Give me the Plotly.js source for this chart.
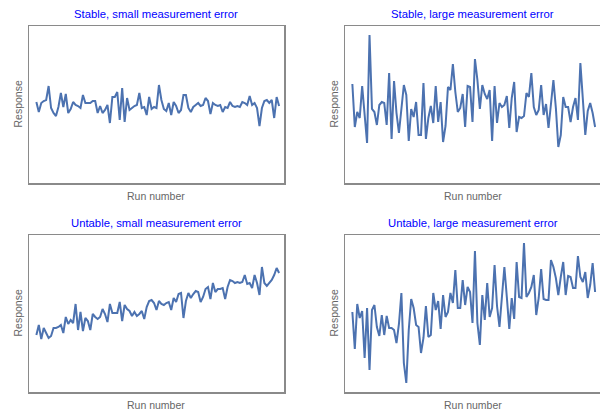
<!DOCTYPE html>
<html>
<head>
<meta charset="utf-8">
<script src="https://cdn.plot.ly/plotly-3.0.1.min.js"></script>
<style>html,body{margin:0;padding:0;background:#fff;}#chart{width:600px;height:415px;}</style>
</head>
<body>
<div id="chart"></div>
<script>
const titles = ["Stable, small measurement error", "Stable, large measurement error",
                "Untable, small measurement error", "Untable, large measurement error"];
const xLabel = "Run number";
const yLabel = "Response";

const stableSmall = [81,71,80,82,83,97,75,70,67,76,90,76,89,70,74,81,78,77,75,88,80,80,80,82,82,70,77,70,73,78,60,86,86,91,63,95,61,85,73,75,77,78,90,75,76,68,86,74,76,75,98,83,74,72,80,68,81,77,70,73,88,88,75,71,76,78,80,77,78,85,82,69,80,78,77,78,71,76,75,81,77,76,77,76,81,80,78,87,78,80,75,57,75,82,83,80,83,65,86,77];
const stableLarge = [99,56,71,65,97,66,40,148,74,71,58,78,81,80,58,110,44,102,70,50,75,98,88,42,74,66,81,48,48,100,44,65,77,60,97,61,81,41,57,96,93,119,91,71,75,89,56,97,96,61,124,103,74,98,89,84,93,42,97,60,80,76,78,87,55,85,101,51,66,65,67,90,86,110,76,68,73,98,68,79,55,81,103,75,36,48,86,76,76,61,76,85,63,120,88,48,72,80,70,56];
const unstableSmall = [57,67,53,64,59,54,56,64,64,65,67,59,75,68,72,69,88,62,80,61,74,71,62,78,75,73,75,83,78,70,88,79,79,79,90,71,87,83,81,76,80,76,78,81,73,85,91,92,89,82,91,88,87,89,90,82,94,90,98,99,74,91,99,94,98,101,100,90,95,103,105,93,109,100,103,103,104,93,105,112,111,109,110,109,110,117,108,109,104,117,109,97,125,109,106,109,112,117,124,119];
const unstableLarge = [80,43,88,74,81,34,84,22,82,87,65,56,77,57,76,64,64,62,49,68,99,29,9,62,93,84,67,65,39,54,86,55,57,99,82,91,63,97,75,80,99,89,122,84,84,112,87,105,100,69,141,69,47,97,72,109,75,84,127,86,65,97,125,95,63,94,73,130,95,94,149,95,99,105,117,77,94,123,93,92,92,132,125,114,97,115,130,97,116,115,104,104,136,115,110,120,94,107,129,100];
const runs = stableSmall.map((_, i) => i);

const series = [stableSmall, stableLarge, unstableSmall, unstableLarge];
const W = 600, H = 415;
// panel boxes in pixels: [left, right, top, bottom]
const boxes = [[29,284,26,183],[345,600,26,183],[29,284,235,392],[345,600,235,392]];

const data = [];
const layout = {
  width: W, height: H,
  margin: {l:0, r:0, t:0, b:0},
  paper_bgcolor: '#fff', plot_bgcolor: '#fff',
  showlegend: false,
  font: {family: 'Liberation Sans, Arial, sans-serif'},
  annotations: []
};

series.forEach((ys, k) => {
  const n = k + 1;
  const xa = n === 1 ? 'xaxis' : 'xaxis' + n;
  const ya = n === 1 ? 'yaxis' : 'yaxis' + n;
  data.push({
    x: runs, y: ys, type: 'scatter', mode: 'lines',
    line: {color: '#4C72B0', width: 2},
    xaxis: 'x' + (n === 1 ? '' : n), yaxis: 'y' + (n === 1 ? '' : n),
    hoverinfo: 'skip'
  });
  const [l, r, t, b] = boxes[k];
  const axCommon = {showgrid:false, zeroline:false, showticklabels:false, ticks:'',
                    showline:true, mirror:true, linecolor:'#8a8a8a', linewidth:1.5, fixedrange:true};
  layout[xa] = Object.assign({}, axCommon, {domain:[l/W, r/W], range:[-3, 101], anchor: 'y' + (n === 1 ? '' : n)});
  layout[ya] = Object.assign({}, axCommon, {domain:[1 - b/H, 1 - t/H], range:[0, 157], anchor: 'x' + (n === 1 ? '' : n)});
  const cx = (l + r) / 2;
  layout.annotations.push({
    text: titles[k], xref:'paper', yref:'paper', x: cx / W, y: 1 - (t - 12) / H,
    xanchor:'center', yanchor:'middle', showarrow:false,
    font:{size:11.3, color:'#0000FF', family:'Liberation Sans, Arial, sans-serif'}
  });
  layout.annotations.push({
    text: xLabel, xref:'paper', yref:'paper', x: cx / W, y: 1 - (b + 12.5) / H,
    xanchor:'center', yanchor:'middle', showarrow:false,
    font:{size:10.5, color:'#666666', family:'Liberation Sans, Arial, sans-serif'}
  });
  layout.annotations.push({
    text: yLabel, xref:'paper', yref:'paper', x: (l - 12) / W, y: 1 - ((t + b) / 2) / H,
    xanchor:'center', yanchor:'middle', showarrow:false, textangle:-90,
    font:{size:10.5, color:'#666666', family:'Liberation Sans, Arial, sans-serif'}
  });
});

Plotly.newPlot('chart', data, layout, {displayModeBar:false, staticPlot:true});
</script>
</body>
</html>
